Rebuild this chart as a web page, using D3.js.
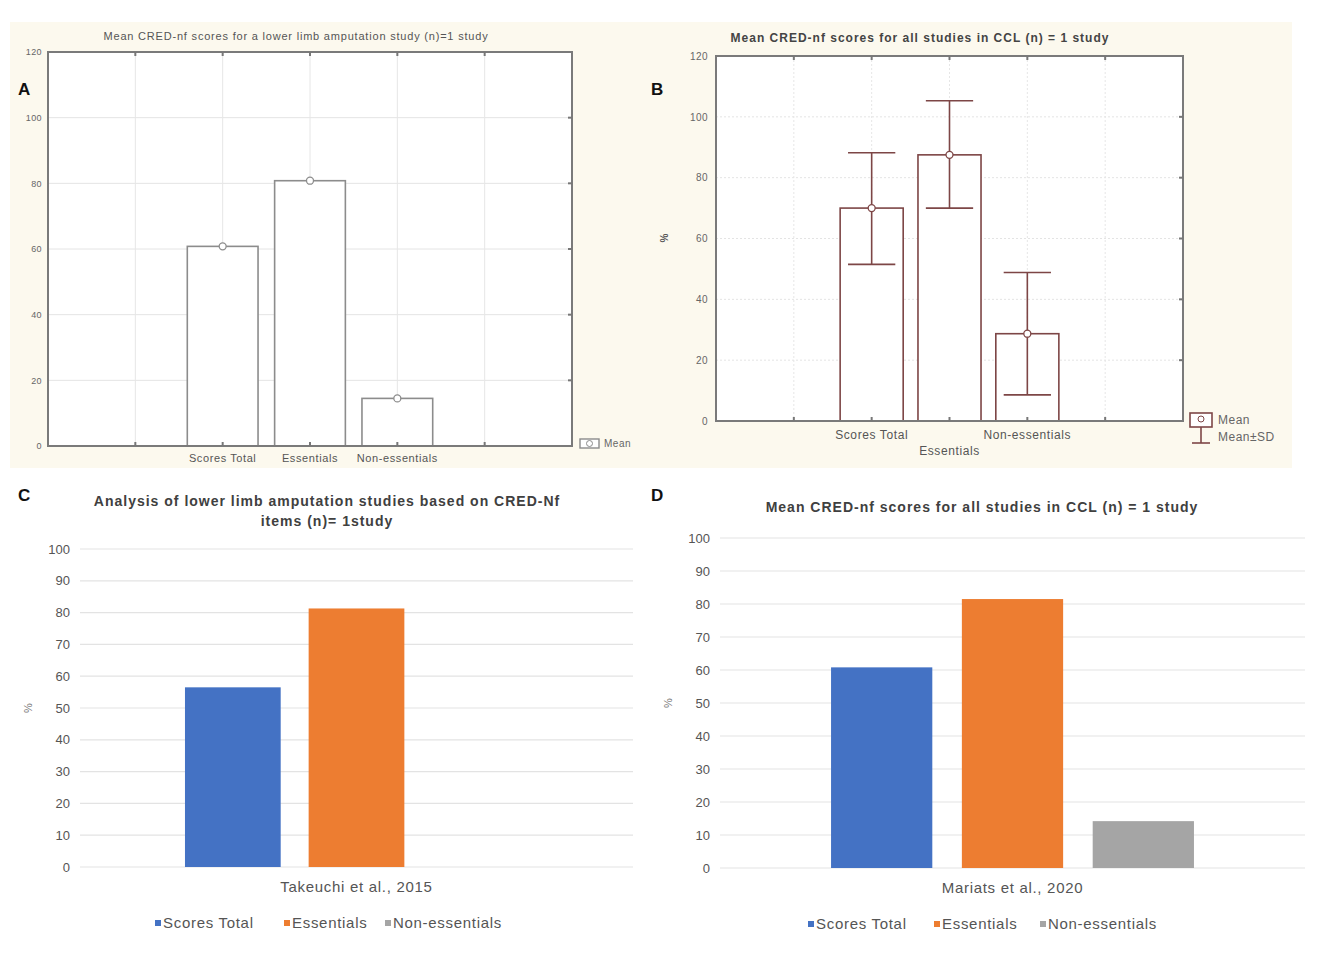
<!DOCTYPE html>
<html><head><meta charset="utf-8">
<script src="https://cdn.jsdelivr.net/npm/d3@7/dist/d3.min.js"></script>
<style>body{margin:0;background:#fff}svg{display:block;font-family:"Liberation Sans",Arial,sans-serif}</style>
</head><body>
<svg id="c" width="1325" height="956"></svg>
<script>
// ---------- DATA ----------
const categories = ["Scores Total", "Essentials", "Non-essentials"];
const meansA = [60.8, 80.8, 14.5];
const meansB = [70, 87.5, 28.7];
const lowerB = [51.5, 70, 8.6];
const upperB = [88.2, 105.3, 48.8];
const valuesC = [56.5, 81.3, 0];
const valuesD = [60.8, 81.5, 14.2];
const studyC = ["Takeuchi et al., 2015"];
const studyD = ["Mariats et al., 2020"];
const ticksAB = [0, 20, 40, 60, 80, 100, 120];
const ticksCD = [0, 10, 20, 30, 40, 50, 60, 70, 80, 90, 100];
const colorsCD = ["#4472c4", "#ed7d31", "#a5a5a5"];

const svg = d3.select("#c");
svg.append("rect").attr("x", 10).attr("y", 22).attr("width", 1282).attr("height", 446).attr("fill", "#fcf9ee");

// ---------- STATISTICA-style panel ----------
function statPanel(cfg) {
  const g = svg.append("g");
  const x = d3.scaleLinear().domain([0, 6]).range([cfg.left, cfg.right]);
  const y = d3.scaleLinear().domain([0, 120]).range([cfg.bottom, cfg.top]);
  g.append("rect").attr("x", cfg.left).attr("y", cfg.top).attr("width", cfg.right - cfg.left)
    .attr("height", cfg.bottom - cfg.top).attr("fill", "#fff");
  g.append("g").selectAll("line").data(ticksAB.slice(1, -1)).join("line")
    .attr("x1", cfg.left).attr("x2", cfg.right).attr("y1", d => y(d)).attr("y2", d => y(d))
    .attr("stroke", "#e4e4e4").attr("stroke-width", 1).attr("stroke-dasharray", cfg.dash);
  g.append("g").selectAll("line").data([1, 2, 3, 4, 5]).join("line")
    .attr("x1", d => x(d)).attr("x2", d => x(d)).attr("y1", cfg.top).attr("y2", cfg.bottom)
    .attr("stroke", "#e6e6e6").attr("stroke-width", 1).attr("stroke-dasharray", cfg.dash);
  const ya = d3.axisLeft(y).tickValues(ticksAB).tickSize(0).tickPadding(cfg.tickPad);
  const yg = g.append("g").attr("transform", `translate(${cfg.left},0)`).call(ya);
  yg.select(".domain").remove();
  yg.selectAll("text").attr("fill", "#666").style("font-size", cfg.tickSize).style("letter-spacing", "0.4px");
  const bw = (x(1) - x(0)) * 0.81;
  g.append("g").selectAll("rect").data(cfg.means).join("rect")
    .attr("x", (d, i) => x(i + 2) - bw / 2).attr("y", d => y(d))
    .attr("width", bw).attr("height", d => y(0) - y(d))
    .attr("fill", "#fff").attr("stroke", cfg.barStroke).attr("stroke-width", 1.6);
  if (cfg.lower) {
    const eg = g.append("g").attr("stroke", cfg.barStroke).attr("stroke-width", 1.6);
    const cw = bw * 0.75;
    cfg.means.forEach((m, i) => {
      const cx = x(i + 2);
      eg.append("line").attr("x1", cx).attr("x2", cx).attr("y1", y(cfg.lower[i])).attr("y2", y(cfg.upper[i]));
      eg.append("line").attr("x1", cx - cw / 2).attr("x2", cx + cw / 2).attr("y1", y(cfg.lower[i])).attr("y2", y(cfg.lower[i]));
      eg.append("line").attr("x1", cx - cw / 2).attr("x2", cx + cw / 2).attr("y1", y(cfg.upper[i])).attr("y2", y(cfg.upper[i]));
    });
  }
  g.append("g").selectAll("circle").data(cfg.means).join("circle")
    .attr("cx", (d, i) => x(i + 2)).attr("cy", d => y(d)).attr("r", 3.5)
    .attr("fill", "#fff").attr("stroke", cfg.barStroke).attr("stroke-width", 1.3);
  g.append("rect").attr("x", cfg.left).attr("y", cfg.top).attr("width", cfg.right - cfg.left)
    .attr("height", cfg.bottom - cfg.top).attr("fill", "none").attr("stroke", "#7a7a7a").attr("stroke-width", 2);
  g.append("g").selectAll("line").data([1, 2, 3, 4, 5]).join("line")
    .attr("x1", d => x(d)).attr("x2", d => x(d)).attr("y1", cfg.top).attr("y2", cfg.top + 4)
    .attr("stroke", "#777").attr("stroke-width", 2);
  g.append("g").selectAll("line").data([1, 2, 3, 4, 5]).join("line")
    .attr("x1", d => x(d)).attr("x2", d => x(d)).attr("y1", cfg.bottom).attr("y2", cfg.bottom - 4)
    .attr("stroke", "#777").attr("stroke-width", 2);
  g.append("g").selectAll("line").data(ticksAB.slice(1, -1)).join("line")
    .attr("x1", cfg.right).attr("x2", cfg.right - 4).attr("y1", d => y(d)).attr("y2", d => y(d))
    .attr("stroke", "#777").attr("stroke-width", 2);
  g.append("g").selectAll("text").data(categories).join("text")
    .attr("x", (d, i) => x(i + 2)).attr("y", (d, i) => cfg.bottom + cfg.labDy[i])
    .attr("text-anchor", "middle").attr("fill", "#555").style("font-size", cfg.labSize)
    .style("letter-spacing", "0.6px").text(d => d);
  g.append("text").attr("x", cfg.titleX).attr("y", cfg.titleY).attr("text-anchor", "middle")
    .attr("fill", cfg.titleFill).style("font-size", cfg.titleSize).style("font-weight", cfg.titleWeight)
    .style("letter-spacing", cfg.titleLs).text(cfg.title);
  return { g, x, y };
}

const A = statPanel({
  left: 48, right: 572, top: 52, bottom: 446, dash: null, tickPad: 6, tickSize: "9px",
  means: meansA, barStroke: "#8c8c8c", labDy: [16, 16, 16], labSize: "11px",
  title: "Mean CRED-nf scores for a lower limb amputation study (n)=1 study",
  titleX: 296, titleY: 40, titleFill: "#555", titleSize: "11px", titleWeight: "normal", titleLs: "0.8px"
});
A.g.append("rect").attr("x", 580).attr("y", 439).attr("width", 19).attr("height", 9).attr("fill", "#fff").attr("stroke", "#8c8c8c").attr("stroke-width", 1.4);
A.g.append("circle").attr("cx", 589.5).attr("cy", 443.5).attr("r", 3).attr("fill", "none").attr("stroke", "#8c8c8c");
A.g.append("text").attr("x", 604).attr("y", 447).attr("fill", "#666").style("font-size", "10px").style("letter-spacing", "0.5px").text("Mean");

const B = statPanel({
  left: 716, right: 1183, top: 56, bottom: 421, dash: "2,2", tickPad: 8, tickSize: "10px",
  means: meansB, lower: lowerB, upper: upperB, barStroke: "#7d4646", labDy: [18, 34, 18], labSize: "12px",
  title: "Mean CRED-nf scores for all studies in CCL (n) = 1 study",
  titleX: 920, titleY: 42, titleFill: "#444", titleSize: "12px", titleWeight: "bold", titleLs: "1px"
});
B.g.append("text").attr("transform", "translate(668,238) rotate(-90)").attr("text-anchor", "middle")
  .attr("fill", "#555").style("font-size", "10px").style("font-weight", "bold").text("%");
B.g.append("rect").attr("x", 1190).attr("y", 413).attr("width", 22).attr("height", 14).attr("fill", "#fff").attr("stroke", "#7d4646").attr("stroke-width", 1.6);
B.g.append("circle").attr("cx", 1201).attr("cy", 419).attr("r", 3).attr("fill", "none").attr("stroke", "#7d4646");
B.g.append("line").attr("x1", 1201).attr("x2", 1201).attr("y1", 427).attr("y2", 443).attr("stroke", "#7d4646").attr("stroke-width", 1.6);
B.g.append("line").attr("x1", 1192).attr("x2", 1210).attr("y1", 443).attr("y2", 443).attr("stroke", "#7d4646").attr("stroke-width", 1.6);
B.g.append("text").attr("x", 1218).attr("y", 424).attr("fill", "#666").style("font-size", "12px").style("letter-spacing", "0.5px").text("Mean");
B.g.append("text").attr("x", 1218).attr("y", 441).attr("fill", "#666").style("font-size", "12px").style("letter-spacing", "0.5px").text("Mean±SD");

// ---------- Excel-style panel ----------
function excelPanel(cfg) {
  const g = svg.append("g");
  const y = d3.scaleLinear().domain([0, 100]).range([cfg.bottom, cfg.top]);
  const x0 = d3.scaleBand().domain(cfg.study).range([cfg.left, cfg.right]).paddingInner(0).paddingOuter(0.306);
  const x1 = d3.scaleBand().domain(categories).range([0, x0.bandwidth()]).paddingInner(0.226).paddingOuter(0);
  g.append("g").selectAll("line").data(ticksCD).join("line")
    .attr("x1", cfg.left).attr("x2", cfg.right).attr("y1", d => y(d)).attr("y2", d => y(d))
    .attr("stroke", "#e3e3e3").attr("stroke-width", 1.2);
  const yg = g.append("g").attr("transform", `translate(${cfg.left},0)`)
    .call(d3.axisLeft(y).tickValues(ticksCD).tickSize(0).tickPadding(cfg.tickPad));
  yg.select(".domain").remove();
  yg.selectAll("text").attr("fill", "#555").style("font-size", "13px");
  g.append("g").selectAll("rect").data(cfg.values).join("rect")
    .attr("x", (d, i) => x0(cfg.study[0]) + x1(categories[i])).attr("y", d => y(d))
    .attr("width", x1.bandwidth()).attr("height", d => y(0) - y(d))
    .attr("fill", (d, i) => colorsCD[i]);
  g.append("text").attr("x", x0(cfg.study[0]) + x0.bandwidth() / 2).attr("y", cfg.bottom + 25)
    .attr("text-anchor", "middle").attr("fill", "#555").style("font-size", "15px").style("letter-spacing", "0.7px").text(cfg.study[0]);
  g.append("text").attr("transform", `translate(${cfg.pctX},${(cfg.top + cfg.bottom) / 2}) rotate(-90)`)
    .attr("text-anchor", "middle").attr("fill", "#777").style("font-size", "11px").text("%");
  cfg.titleLines.forEach((t, i) => {
    g.append("text").attr("x", cfg.titleX).attr("y", cfg.titleY + i * 20).attr("text-anchor", "middle")
      .attr("fill", "#404040").style("font-size", "14px").style("font-weight", "bold")
      .style("letter-spacing", "1px").text(t);
  });
  const lg = g.append("g").selectAll("g").data(categories).join("g")
    .attr("transform", (d, i) => `translate(${cfg.legendX[i]},${cfg.legendY})`);
  lg.append("rect").attr("x", 0).attr("y", -8).attr("width", 6).attr("height", 6).attr("fill", (d, i) => colorsCD[i]);
  lg.append("text").attr("x", 8).attr("y", 0).attr("fill", "#555").style("font-size", "15px")
    .style("letter-spacing", "0.7px").text(d => d);
  return g;
}

excelPanel({
  left: 80, right: 633, top: 549, bottom: 867, tickPad: 10, pctX: 32,
  values: valuesC, study: studyC,
  titleLines: ["Analysis of lower limb amputation studies based on CRED-Nf", "items (n)= 1study"],
  titleX: 327, titleY: 506, legendX: [155, 284, 385], legendY: 928
});
excelPanel({
  left: 720, right: 1305, top: 538, bottom: 868, tickPad: 10, pctX: 672,
  values: valuesD, study: studyD,
  titleLines: ["Mean CRED-nf scores for all studies in CCL (n) = 1 study"],
  titleX: 982, titleY: 512, legendX: [808, 934, 1040], legendY: 929
});

const letters = [["A", 18, 95], ["B", 651, 95], ["C", 18, 501], ["D", 651, 501]];
svg.append("g").selectAll("text").data(letters).join("text")
  .attr("x", d => d[1]).attr("y", d => d[2]).attr("fill", "#111")
  .style("font-size", "17px").style("font-weight", "bold").text(d => d[0]);
</script>
</body></html>
